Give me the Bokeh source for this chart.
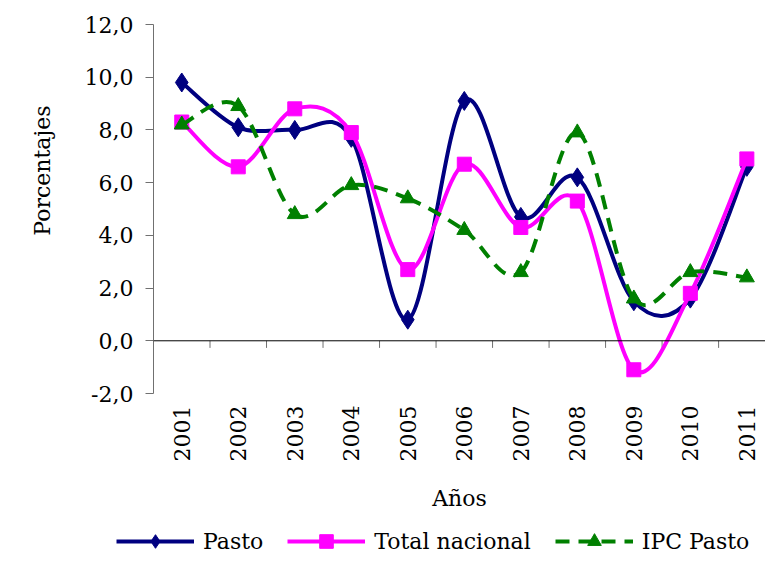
import numpy as np
from bokeh.plotting import figure
from bokeh.layouts import column
from bokeh.models import (FixedTicker, Span, Legend, LegendItem, Range1d, Title,
                          ColumnDataSource, CustomJSTickFormatter)
from bokeh.embed import file_html
from bokeh.resources import INLINE

years = ["2001", "2002", "2003", "2004", "2005", "2006", "2007", "2008", "2009", "2010", "2011"]
pasto = [9.8, 8.1, 8.0, 7.7, 0.8, 9.1, 4.7, 6.2, 1.5, 1.6, 6.6]
total_nacional = [8.3, 6.6, 8.8, 7.9, 2.7, 6.7, 4.3, 5.3, -1.1, 1.8, 6.9]
ipc_pasto = [8.2, 8.9, 4.8, 5.9, 5.4, 4.2, 2.6, 7.9, 1.6, 2.6, 2.4]
y_ticks = [-2, 0, 2, 4, 6, 8, 10, 12]

FONT = "DejaVu Serif"
FS = "22px"

xs = np.arange(1, len(years) + 1, dtype=float)


def smooth_segments(vals):
    """Excel-like smoothed line: cubic Bezier control points from neighbouring data points."""
    y = np.asarray(vals, dtype=float)
    n = len(y)
    d = dict(x0=[], y0=[], x1=[], y1=[], cx0=[], cy0=[], cx1=[], cy1=[])
    for i in range(n - 1):
        pa = (xs[i - 1], y[i - 1]) if i > 0 else (xs[i], y[i])
        pd = (xs[i + 2], y[i + 2]) if i + 2 < n else (xs[i + 1], y[i + 1])
        d["x0"].append(xs[i]); d["y0"].append(y[i])
        d["x1"].append(xs[i + 1]); d["y1"].append(y[i + 1])
        d["cx0"].append(xs[i] + (xs[i + 1] - pa[0]) / 6.0)
        d["cy0"].append(y[i] + (y[i + 1] - pa[1]) / 6.0)
        d["cx1"].append(xs[i + 1] - (pd[0] - xs[i]) / 6.0)
        d["cy1"].append(y[i + 1] - (pd[1] - y[i]) / 6.0)
    return ColumnDataSource(d)


p = figure(width=765, height=520, output_backend="svg", toolbar_location=None,
           x_range=Range1d(0.5, 11.33), y_range=Range1d(-2, 12),
           min_border_left=151, min_border_top=24, min_border_bottom=127, min_border_right=0)
p.background_fill_color = "white"
p.border_fill_color = "white"
p.outline_line_color = None
p.grid.visible = False

# y axis
ya = p.yaxis[0]
ya.ticker = FixedTicker(ticks=y_ticks)
ya.formatter = CustomJSTickFormatter(code="return tick.toFixed(1).replace('.', ',');")
ya.axis_line_color = "#707070"
ya.major_tick_line_color = "#707070"
ya.major_tick_out = 8
ya.major_tick_in = 0
ya.minor_tick_line_color = None
ya.major_label_standoff = 12
ya.major_label_text_font = FONT
ya.major_label_text_font_size = FS
ya.major_label_text_color = "black"

p.add_layout(Title(text="Porcentajes", align="right", offset=81, standoff=54,
                   text_font=FONT, text_font_size=FS, text_font_style="normal",
                   text_color="black"), "left")

# x axis (labels only, below)
xa = p.xaxis[0]
xa.ticker = FixedTicker(ticks=list(xs))
xa.formatter = CustomJSTickFormatter(args=dict(years=years),
                                     code="return years[Math.round(tick) - 1] || '';")
xa.axis_line_color = None
xa.major_tick_line_color = None
xa.minor_tick_line_color = None
xa.major_tick_out = 0
xa.major_label_orientation = np.pi / 2
xa.major_label_standoff = 12
xa.major_label_text_font = FONT
xa.major_label_text_font_size = FS
xa.major_label_text_color = "black"
xa.axis_label = "Años"
xa.axis_label_text_font = FONT
xa.axis_label_text_font_size = FS
xa.axis_label_text_font_style = "normal"
xa.axis_label_text_color = "black"
xa.axis_label_standoff = 22

# zero line with category boundary ticks
p.add_layout(Span(location=0, dimension="width", line_color="black", line_width=1))
bounds = np.arange(1.5, len(years) + 0.5, 1.0)
p.segment(x0=bounds, y0=np.zeros_like(bounds), x1=bounds, y1=np.full_like(bounds, -0.27),
          line_color="#707070", line_width=1)

series = [
    ("Pasto", pasto, "#000080", "diamond", 19, None),
    ("Total nacional", total_nacional, "#FF00FF", "square", 14, None),
    ("IPC Pasto", ipc_pasto, "#008000", "triangle", 15, "14 9"),
]

# legend strip (separate figure below the chart); its renderers lie outside its ranges
pl = figure(width=765, height=38, output_backend="svg", toolbar_location=None,
            x_axis_location=None, y_axis_location=None,
            x_range=Range1d(1000, 1001), y_range=Range1d(1000, 1001),
            min_border=0)
pl.outline_line_color = None
pl.grid.visible = False
pl.background_fill_color = "white"
pl.border_fill_color = "white"
for fig in (p, pl):
    if "frame_align" in fig.properties():
        fig.frame_align = False

items = []
for label, vals, color, marker, size, dash in series:
    src = smooth_segments(vals)
    kw = dict(line_color=color, line_width=4)
    if dash:
        kw["line_dash"] = dash
    p.bezier(x0="x0", y0="y0", x1="x1", y1="y1", cx0="cx0", cy0="cy0", cx1="cx1", cy1="cy1",
             source=src, **kw)
    p.scatter(xs, vals, marker=marker, size=size, fill_color=color, line_color=color)
    lr = pl.line(xs, vals, **kw)
    sr = pl.scatter(xs, vals, marker=marker, size=size, fill_color=color, line_color=color)
    items.append(LegendItem(label=label, renderers=[lr, sr]))

legend = Legend(items=items, orientation="horizontal", location=(116, 0),
                label_text_font=FONT, label_text_font_size=FS, label_text_color="black",
                glyph_width=78, glyph_height=34, label_standoff=9, spacing=24,
                border_line_color=None, background_fill_alpha=0, margin=0, padding=0)
pl.add_layout(legend, "center")

layout = column(p, pl, spacing=0)
open("out.html", "w").write(file_html(layout, INLINE))
